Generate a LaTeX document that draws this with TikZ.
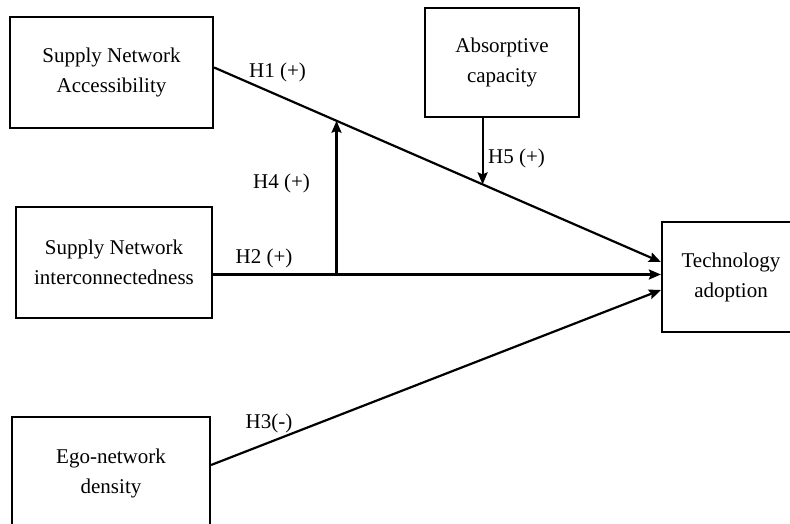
\documentclass[tikz,border=0pt]{standalone}
\usepackage{fontspec}
\setmainfont{Liberation Serif}
\usetikzlibrary{arrows.meta,calc}

\tikzset{
  construct/.style={draw,line width=2.2pt,align=center,inner sep=0pt},
  hyp/.style={line width=2.2pt,-{Stealth[length=12pt,width=10pt,inset=2pt]}},
  hyplabel/.style={inner sep=0pt}
}

\begin{document}
\begin{tikzpicture}[x=1pt,y=1pt,font=\fontsize{21}{30}\selectfont]
    \useasboundingbox (0,0) rectangle (790,524);

    \node[construct,minimum width=203pt,minimum height=111pt] (access) at (111.5,451.5) {Supply Network\\Accessibility};
    \node[construct,minimum width=154pt,minimum height=109pt] (absorb) at (502,461.5) {Absorptive\\capacity};
    \node[construct,minimum width=196pt,minimum height=111pt] (inter) at (114,261.5) {Supply Network\\interconnectedness};
    \node[construct,minimum width=138pt,minimum height=110pt] (tech) at (731,247) {Technology\\adoption};
    \node[construct,minimum width=198pt,minimum height=112pt] (ego) at (111,51) {Ego-network\\density};

    % main effects
    \coordinate (h1s) at ([yshift=5pt]access.east);
    \coordinate (h1e) at ([yshift=15pt]tech.west);
    \draw[hyp] (h1s) -- (h1e);

    \coordinate (h2s) at ([yshift=-12pt]inter.east);
    \draw[hyp] (h2s) -- (h2s -| tech.west);

    \draw[hyp] ([yshift=8pt]ego.east) -- ([yshift=-13pt]tech.west);

    % moderators
    \coordinate (h4e) at ($(h1s)!0.274!(h1e)$);
    \draw[hyp] (h2s -| h4e) -- (h4e);

    \coordinate (h5e) at ($(h1s)!0.601!(h1e)$);
    \draw[hyp] (absorb.south -| h5e) -- (h5e);

    \node[hyplabel] (l1) at (277.5,452) {H1 (+)};
    \node[hyplabel] (l2) at (264,266) {H2 (+)};
    \node[hyplabel] (l3) at (269,101) {H3(-)};
    \node[hyplabel] (l4) at (281.5,341) {H4 (+)};
    \node[hyplabel] (l5) at (516.5,366) {H5 (+)};
\end{tikzpicture}
\end{document}
